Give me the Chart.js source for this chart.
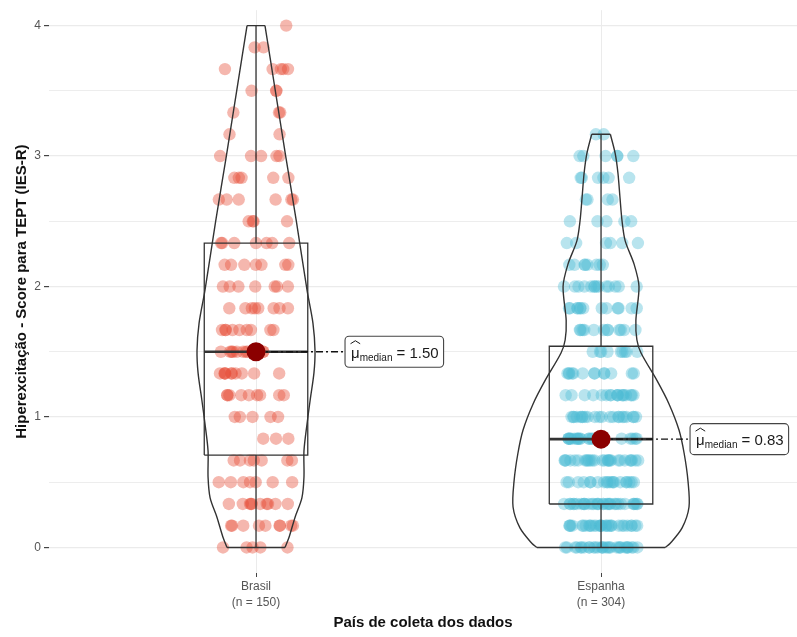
<!DOCTYPE html>
<html>
<head>
<meta charset="utf-8">
<script src="https://cdn.jsdelivr.net/npm/chart.js@4.4.1/dist/chart.umd.min.js"></script>
<style>
  html, body { margin: 0; padding: 0; background: #fff; }
  #wrap { width: 797px; height: 637px; position: relative; }
</style>
</head>
<body>
<div id="wrap"><canvas id="chart"></canvas></div>
<script>
// ── data ────────────────────────────────────────
const countries = ['Brasil', 'Espanha'];
const sampleSizes = [150, 304];

// score levels are steps of 1/6; counts per level, from 0 upward
const levelStep = 1 / 6;
const brasilCounts  = [5, 9, 10, 7, 7, 3, 5, 9, 10, 11, 9, 8, 7, 7, 7, 4, 6, 5, 5, 2, 3, 3, 5, 2, 1];
const espanhaCounts = [30, 30, 32, 20, 28, 26, 22, 18, 13, 9, 12, 13, 14, 8, 6, 5, 4, 6, 6, 2];

// box statistics
const q1Values     = [0.708, 0.333];
const medianValues = [1.50, 0.83];
const q3Values     = [2.333, 1.542];
const whiskerLow   = [0, 0];
const whiskerHigh  = [4.0, 3.167];

// violin outline: score level and half width (x units)
const brasilViolinY = [0, 0.08, 0.23, 0.38, 0.54, 0.74, 0.95, 1.13, 1.34, 1.51, 1.72, 1.97, 2.5, 3.0, 3.5, 4.0];
const brasilViolinW = [0.084, 0.096, 0.113, 0.133, 0.139, 0.139, 0.148, 0.157, 0.168, 0.171, 0.165, 0.148, 0.117, 0.086, 0.056, 0.026];
const espanhaViolinY = [0, 0.03, 0.15, 0.31, 0.51, 0.72, 0.90, 1.10, 1.28, 1.49, 1.59, 1.74, 2.0, 2.17, 2.35, 2.5, 2.68, 2.87, 3.02, 3.167];
const espanhaViolinW = [0.186, 0.2, 0.235, 0.255, 0.252, 0.241, 0.226, 0.197, 0.162, 0.116, 0.104, 0.101, 0.11, 0.096, 0.07, 0.061, 0.055, 0.049, 0.041, 0.027];

const yTicks = [0, 1, 2, 3, 4];
const yGrid  = [0, 0.5, 1, 1.5, 2, 2.5, 3, 3.5, 4];

// ── styling ─────────────────────────────────────
const pointColors = ['rgba(230,75,53,0.4)', 'rgba(77,187,213,0.4)'];
const lineColor = '#333333';
const jitterWidth = 0.108;
const labelOffset = 0.258;
const FONT = '"Liberation Sans", Arial, Helvetica, sans-serif';

// horizontal jitter from a fixed hash, so every render is identical
function jitterOffset(i, g) {
  const s = Math.sin(i * 12.9898 + g * 78.233) * 43758.5453;
  return (s - Math.floor(s)) * 2 - 1;
}

function jitterPoints(counts, center, g) {
  const pts = [];
  let idx = 0;
  counts.forEach((n, k) => {
    for (let j = 0; j < n; j++) {
      pts.push({ x: center + jitterOffset(idx + 1, g) * jitterWidth, y: k * levelStep });
      idx++;
    }
  });
  return pts;
}

function lineDs(data, extra) {
  return Object.assign({
    type: 'line', data, showLine: true, fill: false,
    borderColor: lineColor, borderWidth: 1.4, pointRadius: 0,
    pointHoverRadius: 0, tension: 0, order: 2,
  }, extra || {});
}

function violinDatasets(ys, ws, center) {
  const left  = ys.map((y, i) => ({ x: center - ws[i], y }));
  const right = ys.map((y, i) => ({ x: center + ws[i], y }));
  const last = ys.length - 1;
  return [
    lineDs(left,  { tension: 0.3 }),
    lineDs(right, { tension: 0.3 }),
    lineDs([left[0], right[0]]),
    lineDs([left[last], right[last]]),
  ];
}

function boxDatasets(g, center) {
  const hw = 0.15;
  const c = center;
  return [
    lineDs([
      { x: c - hw, y: q1Values[g] }, { x: c + hw, y: q1Values[g] },
      { x: c + hw, y: q3Values[g] }, { x: c - hw, y: q3Values[g] },
      { x: c - hw, y: q1Values[g] },
    ], { order: 3, borderWidth: 1.3 }),
    lineDs([{ x: c - hw, y: medianValues[g] }, { x: c + hw, y: medianValues[g] }],
      { order: 3, borderWidth: 2.6 }),
    lineDs([{ x: c, y: q3Values[g] }, { x: c, y: whiskerHigh[g] }], { order: 3, borderWidth: 1.3 }),
    lineDs([{ x: c, y: q1Values[g] }, { x: c, y: whiskerLow[g] }], { order: 3, borderWidth: 1.3 }),
  ];
}

const datasets = [];
const countsByGroup = [brasilCounts, espanhaCounts];
countsByGroup.forEach((counts, g) => {
  datasets.push({
    type: 'scatter', data: jitterPoints(counts, g + 1, g),
    backgroundColor: pointColors[g], borderWidth: 0,
    pointRadius: 6.2, pointHoverRadius: 6.2, order: 5,
  });
});
datasets.push(...boxDatasets(0, 1), ...boxDatasets(1, 2));
datasets.push(...violinDatasets(brasilViolinY, brasilViolinW, 1));
datasets.push(...violinDatasets(espanhaViolinY, espanhaViolinW, 2));
medianValues.forEach((m, g) => {
  datasets.push(lineDs([{ x: g + 1, y: m }, { x: g + 1 + labelOffset, y: m }],
    { order: 1, borderWidth: 1.4, borderColor: '#111', borderDash: [7, 3, 2, 3] }));
  datasets.push({
    type: 'scatter', data: [{ x: g + 1, y: m }],
    backgroundColor: '#8B0000', borderWidth: 0,
    pointRadius: 9.5, pointHoverRadius: 9.5, order: 0,
  });
});

// median label boxes: μ̂ with "median" subscript
const medianLabels = {
  id: 'medianLabels',
  afterDatasetsDraw(chart) {
    const { ctx, scales: { x, y } } = chart;
    medianValues.forEach((m, g) => {
      const px = x.getPixelForValue(g + 1 + labelOffset);
      const py = y.getPixelForValue(m);
      const value = '= ' + m.toFixed(2);
      ctx.save();
      ctx.font = '15px ' + FONT;
      const wMu = ctx.measureText('μ').width;
      const wVal = ctx.measureText(value).width;
      ctx.font = '10px ' + FONT;
      const wSub = ctx.measureText('median').width;
      const w = 6 + wMu + wSub + 4 + wVal + 5;
      const h = 31;
      const top = py - h / 2;
      ctx.beginPath();
      ctx.roundRect(px, top, w, h, 4);
      ctx.fillStyle = '#fff';
      ctx.fill();
      ctx.lineWidth = 1.1;
      ctx.strokeStyle = '#444';
      ctx.stroke();

      ctx.fillStyle = '#1a1a1a';
      ctx.textBaseline = 'alphabetic';
      let tx = px + 6;
      const base = py + 6;
      ctx.font = '15px ' + FONT;
      ctx.fillText('μ', tx, base);
      // hat
      ctx.beginPath();
      ctx.moveTo(tx - 0.5, top + 7.5);
      ctx.lineTo(tx + wMu / 2, top + 4.5);
      ctx.lineTo(tx + wMu + 0.5, top + 7.5);
      ctx.lineWidth = 1;
      ctx.strokeStyle = '#1a1a1a';
      ctx.stroke();
      tx += wMu;
      ctx.font = '10px ' + FONT;
      ctx.fillText('median', tx, base + 3);
      tx += wSub + 4;
      ctx.font = '15px ' + FONT;
      ctx.fillText(value, tx, base);
      ctx.restore();
    });
  },
};

new Chart(document.getElementById('chart'), {
  type: 'scatter',
  data: { datasets },
  plugins: [medianLabels],
  options: {
    responsive: true,
    maintainAspectRatio: false,
    animation: false,
    layout: { padding: 0, autoPadding: false },
    plugins: { legend: { display: false }, tooltip: { enabled: false } },
    scales: {
      x: {
        type: 'linear', min: 0.4, max: 2.568,
        afterBuildTicks: s => { s.ticks = countries.map((_, i) => ({ value: i + 1 })); },
        afterFit: s => { s.height = 64; },
        border: { display: false },
        grid: { color: '#ebebeb', lineWidth: 1, tickColor: '#444', tickLength: 4 },
        ticks: {
          color: '#555', padding: 2,
          font: { family: FONT, size: 12, lineHeight: 1.33 },
          callback: v => [countries[v - 1], '(n = ' + sampleSizes[v - 1] + ')'],
        },
        title: {
          display: true, text: 'País de coleta dos dados', color: '#111',
          font: { family: FONT, size: 15, weight: 'bold' }, padding: { top: 0, bottom: 5 },
        },
      },
      y: {
        type: 'linear', min: -0.196, max: 4.118,
        afterBuildTicks: s => { s.ticks = yGrid.map(v => ({ value: v })); },
        afterFit: s => { s.width = 49; },
        border: { display: false },
        grid: {
          color: '#ebebeb',
          lineWidth: c => (c.tick && Number.isInteger(c.tick.value) ? 1.2 : 0.9),
          tickColor: c => (c.tick && Number.isInteger(c.tick.value) ? '#444' : 'rgba(0,0,0,0)'),
          tickLength: 5,
        },
        ticks: {
          color: '#555', padding: 3,
          font: { family: FONT, size: 12 },
          callback: v => (yTicks.includes(v) ? String(v) : ''),
        },
        title: {
          display: true, text: 'Hiperexcitação - Score para TEPT (IES-R)', color: '#111',
          font: { family: FONT, size: 15, weight: 'bold' }, padding: { top: 13, bottom: 0 },
        },
      },
    },
  },
});
</script>
</body>
</html>
